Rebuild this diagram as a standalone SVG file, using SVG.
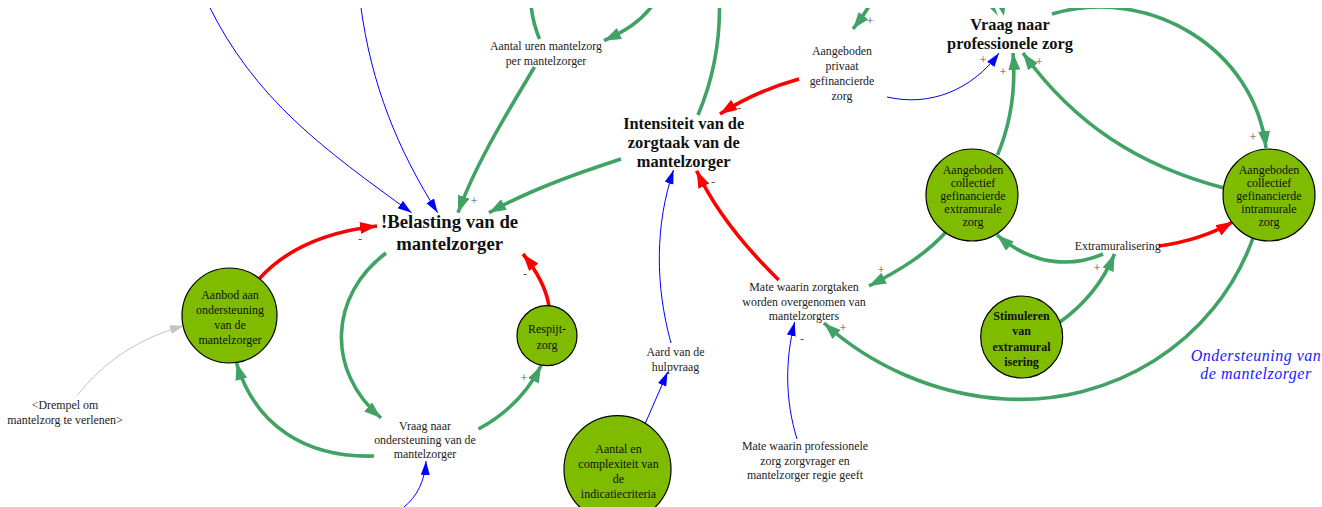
<svg xmlns="http://www.w3.org/2000/svg" width="1322" height="507" viewBox="0 0 1322 507">
<style>
text{font-family:"Liberation Serif","Times New Roman",serif;text-anchor:middle;fill:#222}
.n{font-size:11.9px}
.e{font-size:12px;fill:#111}
.b{font-size:16.4px;font-weight:bold;fill:#111}
.h{font-size:18.7px;font-weight:bold;fill:#111}
.s{font-size:12.5px;fill:#555}
.o{fill:#7fbc00;stroke:#000;stroke-width:1.2}
.t{font-size:16px;font-style:italic;fill:#1a1aff;letter-spacing:.5px}
.c path{fill:none}
.g{stroke:#41a265;stroke-width:3.6}
.r{stroke:#f00;stroke-width:3.6}
.u{stroke:#00f;stroke-width:1}
.y{stroke:#c4c4c4;stroke-width:1}
</style>
<defs>
<clipPath id="top"><rect x="0" y="8" width="1322" height="499"/></clipPath>
<marker id="mg" markerUnits="userSpaceOnUse" markerWidth="19" markerHeight="14" refX="17" refY="6" orient="auto"><path d="M0,0L17,6L0,12Z" fill="#41a265"/></marker>
<marker id="mr" markerUnits="userSpaceOnUse" markerWidth="19" markerHeight="14" refX="17" refY="6" orient="auto"><path d="M0,0L17,6L0,12Z" fill="#f00"/></marker>
<marker id="mu" markerUnits="userSpaceOnUse" markerWidth="16" markerHeight="10" refX="14" refY="4.5" orient="auto"><path d="M0,0L14,4.5L0,9Z" fill="#00f"/></marker>
<marker id="my" markerUnits="userSpaceOnUse" markerWidth="16" markerHeight="10" refX="14" refY="4.5" orient="auto"><path d="M0,0L14,4.5L0,9Z" fill="#c4c4c4"/></marker>
</defs>
<rect width="1322" height="507" fill="#fff"/>
<g id="connectors" class="c" clip-path="url(#top)">
<path class="u" marker-end="url(#mu)" d="M208,4C255,100 325,150 411.6,212.7"/>
<path class="u" marker-end="url(#mu)" d="M360.5,4C371,85 398,150 437.7,212.7"/>
<path class="g" marker-end="url(#mg)" d="M534.5,67C507,113 475,165 458,212.7"/>
<path class="g" marker-end="url(#mg)" d="M621,159C575,174 530,190 489,212.7"/>
<path class="g" d="M531,4C532,18 535,28 539.5,39"/>
<path class="g" marker-end="url(#mg)" d="M652,6C640,22 625,31 604,40.7"/>
<path class="g" d="M719.5,4C720,45 712,82 698,115"/>
<path class="g" marker-end="url(#mg)" d="M870,4C866,12 860,20 853,29"/>
<path class="r" marker-end="url(#mr)" d="M799,79C770,87 745,98 720,114"/>
<path class="u" marker-end="url(#mu)" d="M887,97C930,107 972,90 999,53"/>
<path class="g" marker-end="url(#mg)" d="M997.5,155C1010,125 1016,90 1013,53"/>
<path class="g" marker-end="url(#mg)" d="M1224,188C1140,166 1075,125 1023,53"/>
<path class="g" marker-end="url(#mg)" d="M1052,14C1150,-15 1255,50 1266,148"/>
<path class="r" marker-end="url(#mr)" d="M259,279C285,250 325,232 377,226"/>
<path class="g" marker-end="url(#mg)" d="M386,253C330,295 325,370 381,418"/>
<path class="g" marker-end="url(#mg)" d="M374,456C305,458 255,425 236.5,363"/>
<path class="g" marker-end="url(#mg)" d="M478.5,429C508,413 528,392 541,365.7"/>
<path class="r" marker-end="url(#mr)" d="M549,306C546,287 536,270 523,254"/>
<path class="u" marker-end="url(#mu)" d="M404,507C417,497 425,480 426,461"/>
<path class="y" marker-end="url(#my)" d="M77,395.7C105,360 140,338 184,325.7"/>
<path class="u" marker-end="url(#mu)" d="M645,424L667.6,372"/>
<path class="u" marker-end="url(#mu)" d="M671,343C655,285 655,225 673.5,170"/>
<path class="r" marker-end="url(#mr)" d="M778.7,280C745,247 716,212 696.6,170.7"/>
<path class="g" marker-end="url(#mg)" d="M946,232C925,255 900,270 869,286"/>
<path class="g" marker-end="url(#mg)" d="M1103,254C1075,266 1035,268 997,235"/>
<path class="r" marker-end="url(#mr)" d="M1159,246C1187,242 1212,234 1233,221.7"/>
<path class="g" marker-end="url(#mg)" d="M1060,322C1085,304 1103,282 1114.5,254"/>
<path class="g" marker-end="url(#mg)" d="M1253.4,237C1215,345 1110,405 1005,399C935,395 870,365 824,323"/>
<path class="u" marker-end="url(#mu)" d="M797,439C785,400 785,360 794.7,322"/>
<polygon points="990,8 995,8 998,16" fill="#41a265"/>
<polygon points="999,8 1005,8 1004,16" fill="#41a265"/>
<g class="signs">
<text class="s" x="474" y="205">+</text><text class="s" x="360" y="243">-</text><text class="s" x="525" y="278">-</text>
<text class="s" x="524" y="382">+</text><text class="s" x="870" y="25">+</text><text class="s" x="739" y="112">-</text>
<text class="s" x="983" y="64">+</text><text class="s" x="1003" y="76">+</text><text class="s" x="1039" y="66">+</text>
<text class="s" x="1253" y="141">+</text><text class="s" x="713" y="186">-</text><text class="s" x="881" y="274">+</text>
<text class="s" x="1097" y="272">+</text><text class="s" x="843" y="332">+</text><text class="s" x="802" y="343">-</text>
</g>
</g>
<g id="belasting"><text class="h" x="449.6" y="228">!Belasting van de</text><text class="h" x="449.6" y="250">mantelzorger</text></g>
<g id="intensiteit"><text class="b" x="683.7" y="129">Intensiteit van de</text><text class="b" x="683.7" y="148">zorgtaak van de</text><text class="b" x="683.7" y="167">mantelzorger</text></g>
<g id="vraag-prof"><text class="b" x="1010" y="30">Vraag naar</text><text class="b" x="1010" y="49">professionele zorg</text></g>
<g id="aantal-uren"><text class="n" x="546" y="50">Aantal uren mantelzorg</text><text class="n" x="546" y="65">per mantelzorger</text></g>
<g id="privaat"><text class="n" x="842" y="55">Aangeboden</text><text class="n" x="842" y="70">privaat</text><text class="n" x="842" y="85">gefinancierde</text><text class="n" x="842" y="100">zorg</text></g>
<g id="extramurale"><ellipse class="o" cx="972" cy="195" rx="46" ry="46"/><text class="e" x="973" y="174">Aangeboden</text><text class="e" x="973" y="187">collectief</text><text class="e" x="973" y="200">gefinancierde</text><text class="e" x="973" y="213">extramurale</text><text class="e" x="973" y="226">zorg</text></g>
<g id="intramurale"><ellipse class="o" cx="1269" cy="195" rx="46" ry="46"/><text class="e" x="1269" y="174">Aangeboden</text><text class="e" x="1269" y="187">collectief</text><text class="e" x="1269" y="200">gefinancierde</text><text class="e" x="1269" y="213">intramurale</text><text class="e" x="1269" y="226">zorg</text></g>
<g id="extramuralisering"><text class="n" x="1117.7" y="250">Extramuralisering</text></g>
<g id="aanbod"><ellipse class="o" cx="229.5" cy="315.5" rx="47.5" ry="47.5"/><text class="e" x="230" y="299">Aanbod aan</text><text class="e" x="230" y="314">ondersteuning</text><text class="e" x="230" y="329">van de</text><text class="e" x="230" y="344">mantelzorger</text></g>
<g id="respijt"><ellipse class="o" cx="547" cy="335.7" rx="30" ry="30"/><text class="e" x="547" y="333">Respijt-</text><text class="e" x="547" y="349">zorg</text></g>
<g id="drempel"><text class="n" x="65" y="409">&lt;Drempel om</text><text class="n" x="65" y="424">mantelzorg te verlenen&gt;</text></g>
<g id="vraag-ondersteuning"><text class="n" x="425" y="430">Vraag naar</text><text class="n" x="425" y="444">ondersteuning van de</text><text class="n" x="425" y="458">mantelzorger</text></g>
<g id="aard"><text class="n" x="675.5" y="356">Aard van de</text><text class="n" x="675.5" y="371">hulpvraag</text></g>
<g id="aantal-complex"><ellipse class="o" cx="617.5" cy="469.2" rx="53.5" ry="53.5"/><text class="e" x="618.5" y="453">Aantal en</text><text class="e" x="618.5" y="468">complexiteit van</text><text class="e" x="618.5" y="483">de</text><text class="e" x="618.5" y="498">indicatiecriteria</text></g>
<g id="mate-zorgtaken"><text class="n" x="804" y="291">Mate waarin zorgtaken</text><text class="n" x="804" y="305.5">worden overgenomen van</text><text class="n" x="804" y="320">mantelzorgters</text></g>
<g id="mate-regie"><text class="n" x="805" y="450">Mate waarin professionele</text><text class="n" x="805" y="465">zorg zorgvrager en</text><text class="n" x="805" y="479">mantelzorger regie geeft</text></g>
<g id="stimuleren"><ellipse class="o" cx="1021.7" cy="337" rx="41" ry="41"/><text class="e" font-weight="bold" x="1021.5" y="320">Stimuleren</text><text class="e" font-weight="bold" x="1021.5" y="335">van</text><text class="e" font-weight="bold" x="1021.5" y="351">extramural</text><text class="e" font-weight="bold" x="1021.5" y="366">isering</text></g>
<g id="ondersteuning-label"><text class="t" x="1256" y="361">Ondersteuning van</text><text class="t" x="1256" y="379">de mantelzorger</text></g>
</svg>
